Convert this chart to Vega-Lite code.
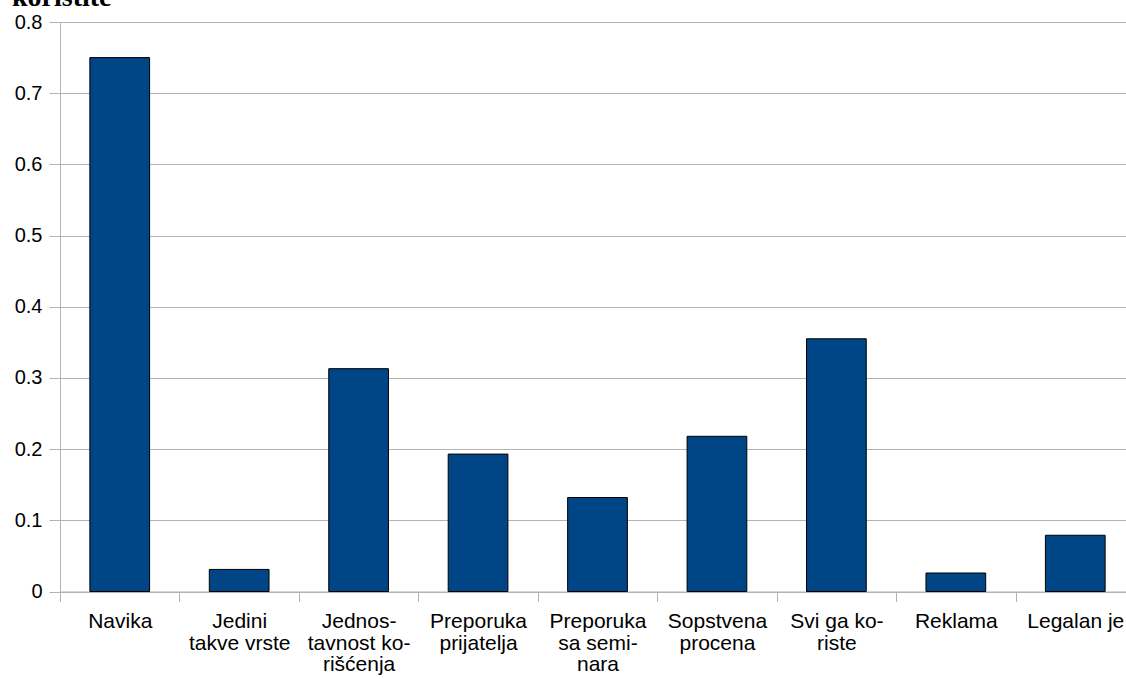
{
  "$schema": "https://vega.github.io/schema/vega-lite/v6.json",
  "autosize": {"type": "none"},
  "padding": {"left": 60, "top": 22, "right": 0, "bottom": 87},
  "width": 1075,
  "height": 569.5,
  "background": "white",
  "title": {
    "text": "koristite",
    "anchor": "start",
    "frame": "group",
    "orient": "top",
    "offset": -22,
    "baseline": "alphabetic",
    "dx": -48,
    "font": "Liberation Serif",
    "fontSize": 28,
    "fontWeight": "bold",
    "color": "#000000"
  },
  "data": {
    "values": [
      {"label": "Navika", "value": 0.75},
      {"label": "Jedini|takve vrste", "value": 0.031},
      {"label": "Jednos-|tavnost ko-|rišćenja", "value": 0.313},
      {"label": "Preporuka|prijatelja", "value": 0.193},
      {"label": "Preporuka|sa semi-|nara", "value": 0.132},
      {"label": "Sopstvena|procena", "value": 0.218},
      {"label": "Svi ga ko-|riste", "value": 0.355},
      {"label": "Reklama", "value": 0.026},
      {"label": "Legalan je", "value": 0.079}
    ]
  },
  "mark": {"type": "bar", "color": "#004586", "stroke": "#000000", "strokeWidth": 1},
  "encoding": {
    "x": {
      "field": "label",
      "type": "nominal",
      "sort": null,
      "scale": {"paddingInner": 0.5, "paddingOuter": 0.25},
      "axis": {
        "title": null,
        "labelAngle": 0,
        "tickOffset": -59.7,
        "labelOffset": 59.7,
        "labelExpr": "split(datum.label, '|')",
        "labelFont": "Liberation Sans",
        "labelFontSize": 21,
        "labelColor": "#000000",
        "labelLineHeight": 21.5,
        "labelPadding": 9,
        "labelBaseline": "top",
        "labelAlign": "center",
        "labelOverlap": false,
        "labelBound": false,
        "labelFlush": false,
        "domainColor": "#b3b3b3",
        "tickColor": "#b3b3b3",
        "tickSize": 10,
        "grid": false
      }
    },
    "y": {
      "field": "value",
      "type": "quantitative",
      "scale": {"domain": [0, 0.8], "nice": false},
      "axis": {
        "title": null,
        "values": [0, 0.1, 0.2, 0.3, 0.4, 0.5, 0.6, 0.7, 0.8],
        "format": "~g",
        "labelFont": "Liberation Sans",
        "labelFontSize": 20,
        "labelColor": "#000000",
        "labelPadding": 7,
        "domainColor": "#b3b3b3",
        "tickColor": "#b3b3b3",
        "tickSize": 11,
        "gridColor": "#b3b3b3",
        "grid": true
      }
    }
  },
  "config": {"view": {"stroke": null}}
}
